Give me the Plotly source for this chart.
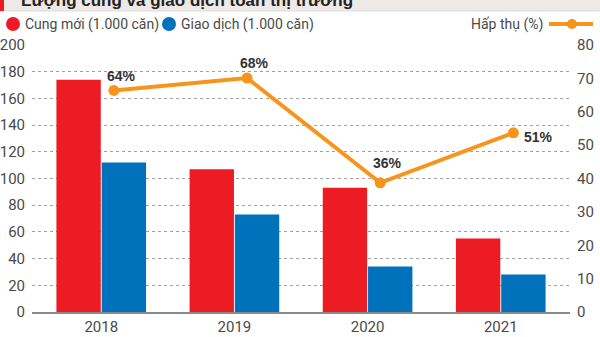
import plotly.graph_objects as go

# ---- data ----
years = ["2018", "2019", "2020", "2021"]
supply_new = [174, 107, 93, 55]          # Cung mới (1.000 căn)
transactions = [112, 73, 34, 28]         # Giao dịch (1.000 căn)
absorption_pos = [66.4, 70.1, 38.7, 53.7]  # Hấp thụ (%) as drawn
absorption_lbl = ["64%", "68%", "36%", "51%"]
left_ticks = list(range(0, 201, 20))
right_ticks = list(range(0, 81, 10))

# ---- style ----
RED = "#ED1C24"
BLUE = "#0072BC"
ORANGE = "#F7941D"
TICKFONT = dict(family="Roboto, sans-serif", size=15, color="#4a4a4a")
LEGFONT = dict(family="Roboto, sans-serif", size=14, color="#4a4a4a")
LINE_SHIFT = 0.095
W, H = 600, 337
ML, MR, MT, MB = 32, 30, 45, 25
PW, PH = W - ML - MR, H - MT - MB


def px(p):
    return (p - ML) / PW


def py(p):
    return (H - MB - p) / PH


xi = list(range(len(years)))

fig = go.Figure()
fig.add_trace(go.Bar(x=xi, y=supply_new, marker=dict(color=RED, line=dict(width=0)),
                     name="Cung mới (1.000 căn)", showlegend=False))
fig.add_trace(go.Bar(x=xi, y=transactions, marker=dict(color=BLUE, line=dict(width=0)),
                     name="Giao dịch (1.000 căn)", showlegend=False))
fig.add_trace(go.Scatter(x=[i + LINE_SHIFT for i in xi], y=absorption_pos, yaxis="y2",
                         mode="lines+markers", line=dict(color=ORANGE, width=4),
                         marker=dict(color=ORANGE, size=11), name="Hấp thụ (%)",
                         showlegend=False))

label_shift = [(8, 14), (7, 15), (7, 20), (25, -4)]
annotations = []
for i, (v, t) in enumerate(zip(absorption_pos, absorption_lbl)):
    dx, dy = label_shift[i]
    annotations.append(dict(x=i + LINE_SHIFT, y=v, xref="x", yref="y2", text="<b>%s</b>" % t,
                            showarrow=False, xshift=dx, yshift=dy,
                            font=dict(family="Liberation Sans, Arial, sans-serif", size=14, color="#333333")))

# title (cropped at top)
annotations.append(dict(x=px(19), y=py(12), xref="paper", yref="paper", xanchor="left", yanchor="bottom",
                        text="<b>Lượng cung và giao dịch toàn thị trường</b>", showarrow=False,
                        font=dict(family="Liberation Sans, Arial, sans-serif", size=17, color="#222222")))
# legend texts
annotations.append(dict(x=px(23), y=py(24), xref="paper", yref="paper", xanchor="left", yanchor="middle",
                        text="Cung mới (1.000 căn)", showarrow=False, font=LEGFONT))
annotations.append(dict(x=px(179), y=py(24), xref="paper", yref="paper", xanchor="left", yanchor="middle",
                        text="Giao dịch (1.000 căn)", showarrow=False, font=LEGFONT))
annotations.append(dict(x=px(545), y=py(24), xref="paper", yref="paper", xanchor="right", yanchor="middle",
                        text="Hấp thụ (%)", showarrow=False, font=LEGFONT))

shapes = [
    dict(type="rect", xref="paper", yref="paper", x0=px(0), x1=px(W), y0=py(0), y1=py(11),
         fillcolor="#ECE9E7", line=dict(width=0), layer="below"),
    dict(type="line", xref="paper", yref="paper", x0=px(0), x1=px(W), y0=py(11), y1=py(11),
         line=dict(color="#DDDDDD", width=1)),
    dict(type="rect", xref="paper", yref="paper", x0=px(0), x1=px(4), y0=py(0), y1=py(11),
         fillcolor=RED, line=dict(width=0)),
    dict(type="circle", xref="paper", yref="paper", x0=px(6), x1=px(20), y0=py(17), y1=py(31),
         fillcolor=RED, line=dict(width=0)),
    dict(type="circle", xref="paper", yref="paper", x0=px(162), x1=px(176), y0=py(17), y1=py(31),
         fillcolor=BLUE, line=dict(width=0)),
    dict(type="line", xref="paper", yref="paper", x0=px(549), x1=px(593), y0=py(24), y1=py(24),
         line=dict(color=ORANGE, width=4)),
    dict(type="circle", xref="paper", yref="paper", x0=px(567), x1=px(577), y0=py(19), y1=py(29),
         fillcolor=ORANGE, line=dict(width=0)),
]

fig.update_layout(
    width=W, height=H, autosize=False,
    margin=dict(l=ML, r=MR, t=MT, b=MB, pad=0, autoexpand=False),
    paper_bgcolor="white", plot_bgcolor="white",
    barmode="group", bargap=0.32, bargroupgap=0.02,
    showlegend=False,
    xaxis=dict(type="linear", range=[-0.52, 3.52], tickvals=xi, ticktext=years,
               showgrid=False, zeroline=False, showline=True, linecolor="#8a8a8a", linewidth=1.5,
               ticks="", tickfont=TICKFONT, fixedrange=True, automargin=False),
    yaxis=dict(range=[0, 200], tickvals=left_ticks, showgrid=True, gridcolor="#a0a0a0",
               griddash="dot", gridwidth=1, zeroline=False, showline=False, ticks="",
               tickfont=TICKFONT, ticklabelstandoff=6, automargin=False),
    yaxis2=dict(range=[0, 80], tickvals=right_ticks, overlaying="y", side="right",
                showgrid=False, zeroline=False, showline=False, ticks="",
                tickfont=TICKFONT, ticklabelstandoff=6, automargin=False),
    annotations=annotations,
    shapes=shapes,
)

fig.write_html("out.html")
